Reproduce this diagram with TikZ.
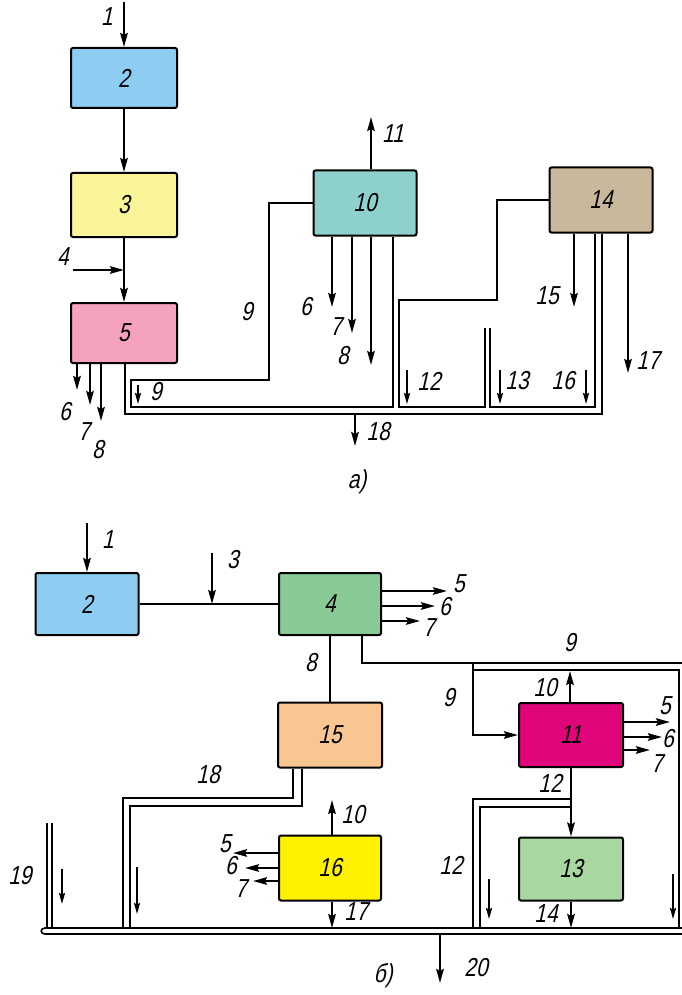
\documentclass[tikz,border=0pt]{standalone}
\usepackage{fontspec}
\setmainfont{Liberation Sans}
\newfontfamily\labfont[FakeStretch=0.8,FakeSlant=0.22]{Liberation Sans}
\usetikzlibrary{arrows.meta}
\definecolor{cblue}{HTML}{8ECDF2}
\definecolor{cyel}{HTML}{FBF59A}
\definecolor{cpink}{HTML}{F4A2C0}
\definecolor{cteal}{HTML}{8ED0CB}
\definecolor{ctan}{HTML}{C9B89B}
\definecolor{cgreen}{HTML}{88C995}
\definecolor{corange}{HTML}{F8C690}
\definecolor{cmag}{HTML}{E0057A}
\definecolor{cyellow}{HTML}{FFF200}
\definecolor{clgreen}{HTML}{A8D7A0}
\begin{document}
\begin{tikzpicture}[x=1pt,y=-1pt,
  box/.style={draw, line width=2pt, rounded corners=2pt, inner sep=0pt,
    font=\labfont\fontsize{26}{26}\selectfont},
  arr/.style={line width=2.2pt, -{Stealth[length=14pt,width=7.5pt,inset=2pt]}},
  sarr/.style={line width=1.8pt, -{Stealth[length=11pt,width=6pt,inset=1.5pt]}},
  ln/.style={line width=2pt},
  dl/.style={line width=1.6pt},
  lab/.style={font=\labfont\fontsize{26}{26}\selectfont, inner sep=0pt}
]
\fill[white] (0,0) rectangle (681,995);
\useasboundingbox (0,0) rectangle (681,995);

% ---------------- figure a ----------------
\node[box, fill=cblue, minimum width=106, minimum height=60] (a2) at (124,78) {2};
\node[box, fill=cyel, minimum width=106, minimum height=64] (a3) at (124,205) {3};
\node[box, fill=cpink, minimum width=106, minimum height=60] (a5) at (124,333) {5};
\node[box, fill=cteal, minimum width=103, minimum height=65] (a10) at (365,203) {10};
\node[box, fill=ctan, minimum width=103, minimum height=65] (a14) at (601,200) {14};

\coordinate (a1s) at (124,2);
\draw[arr] (a1s) -- (a2.north);
\node[lab] at (107,17) {1};
\draw[arr] (a2.south) -- (a3.north);
\draw[arr] (a3.south) -- (a5.north);
\coordinate (a4s) at (73,270);
\draw[arr] (a4s) -- (a4s -| a3.south);
\node[lab] at (63,257) {4};

\coordinate (a6e) at (77,390);
\coordinate (a7e) at (90,405);
\coordinate (a8e) at (101,421);
\draw[arr] (a6e |- a5.south) -- (a6e);
\draw[arr] (a7e |- a5.south) -- (a7e);
\draw[arr] (a8e |- a5.south) -- (a8e);
\node[lab] at (65,412) {6};
\node[lab] at (84,432) {7};
\node[lab] at (98,450) {8};

% outer bus line
\coordinate (o1) at (125,414);
\coordinate (o2) at (602,414);
\draw[dl] (o1 |- a5.south) -- (o1) -- (o2) -- (o2 |- a14.south);
% stream 9 from 10
\coordinate (n1) at (269,380);
\coordinate (n2) at (131,380);
\coordinate (n3) at (131,407);
\coordinate (n4) at (393,407);
\draw[ln] (a10.west) -- (a10.west -| n1) -- (n1) -- (n2) -- (n3) -- (n4) -- (n4 |- a10.south);
% stream from 14 (left)
\coordinate (m1) at (497,300);
\coordinate (m2) at (399,300);
\coordinate (m3) at (399,407);
\coordinate (m4) at (485,407);
\coordinate (m5) at (485,328);
\draw[ln] (a14.west) -- (a14.west -| m1) -- (m1) -- (m2) -- (m3) -- (m4) -- (m5);
\coordinate (k1) at (490,328);
\coordinate (k2) at (490,407);
\coordinate (k3) at (595,407);
\draw[dl] (k1) -- (k2) -- (k3) -- (k3 |- a14.south);

\coordinate (s9a) at (138,385);  \coordinate (s9b) at (138,404);
\coordinate (s12a) at (407,370); \coordinate (s12b) at (407,404);
\coordinate (s13a) at (500,370); \coordinate (s13b) at (500,404);
\coordinate (s16a) at (586,370); \coordinate (s16b) at (586,404);
\draw[sarr] (s9a) -- (s9b);
\draw[sarr] (s12a) -- (s12b);
\draw[sarr] (s13a) -- (s13b);
\draw[sarr] (s16a) -- (s16b);
\node[lab] at (156,392) {9};
\node[lab] at (429,381) {12};
\node[lab] at (517,381) {13};
\node[lab] at (563,381) {16};

\coordinate (a18e) at (355,446);
\draw[arr] (a18e |- o1) -- (a18e);
\node[lab] at (378,432) {18};
\node[lab] at (357,482) {а)};

\coordinate (a11e) at (371,117);
\draw[arr] (a11e |- a10.north) -- (a11e);
\node[lab] at (393,134) {11};
\coordinate (b6e) at (332,307);
\coordinate (b7e) at (352,333);
\coordinate (b8e) at (371,365);
\draw[arr] (b6e |- a10.south) -- (b6e);
\draw[arr] (b7e |- a10.south) -- (b7e);
\draw[arr] (b8e |- a10.south) -- (b8e);
\node[lab] at (247,312) {9};
\node[lab] at (306,307) {6};
\node[lab] at (336,327) {7};
\node[lab] at (343,356) {8};

\coordinate (a15e) at (574,307);
\coordinate (a17e) at (628,373);
\draw[arr] (a15e |- a14.south) -- (a15e);
\draw[arr] (a17e |- a14.south) -- (a17e);
\node[lab] at (547,296) {15};
\node[lab] at (648,361) {17};

% ---------------- figure b ----------------
\node[box, fill=cblue, minimum width=103, minimum height=62] (b2) at (87,604) {2};
\node[box, fill=cgreen, minimum width=102, minimum height=62] (b4) at (330,604) {4};
\node[box, fill=corange, minimum width=104, minimum height=65] (b15) at (330,735) {15};
\node[box, fill=cyellow, minimum width=102, minimum height=65] (b16) at (330,868) {16};
\node[box, fill=cmag, minimum width=104, minimum height=64] (b11) at (571,735) {11};
\node[box, fill=clgreen, minimum width=104, minimum height=63] (b13) at (571,869) {13};

\coordinate (b1s) at (87,523);
\draw[arr] (b1s) -- (b2.north);
\node[lab] at (108,540) {1};
\draw[ln] (b2.east) -- (b4.west);
\coordinate (b3s) at (212,553);
\draw[arr] (b3s) -- (b3s |- b2.east);
\node[lab] at (233,560) {3};

\coordinate (c5e) at (447,591);
\coordinate (c6e) at (435,606);
\coordinate (c7e) at (420,621);
\draw[arr] (c5e -| b4.east) -- (c5e);
\draw[arr] (c6e -| b4.east) -- (c6e);
\draw[arr] (c7e -| b4.east) -- (c7e);
\node[lab] at (459,584) {5};
\node[lab] at (445,607) {6};
\node[lab] at (429,628) {7};

\draw[ln] (b4.south) -- (b15.north);
\node[lab] at (311,663) {8};

\coordinate (g1) at (362,663);
\coordinate (g2) at (683,663);
\draw[ln] (g1 |- b4.south) -- (g1) -- (g2);
\coordinate (h1) at (473,663);
\coordinate (h2) at (473,735);
\draw[arr] (h1) -- (h2) -- (b11.west);
\coordinate (r1) at (473,670);
\coordinate (r2) at (679,670);
\coordinate (r3) at (679,928);
\draw[dl] (r1) -- (r2) -- (r3);
\node[lab] at (449,698) {9};
\node[lab] at (570,643) {9};
\coordinate (t10) at (570,671);
\draw[arr] (t10 |- b11.north) -- (t10);
\node[lab] at (545,688) {10};

\coordinate (d5e) at (670,722);
\coordinate (d6e) at (662,737);
\coordinate (d7e) at (650,750);
\draw[arr] (d5e -| b11.east) -- (d5e);
\draw[arr] (d6e -| b11.east) -- (d6e);
\draw[arr] (d7e -| b11.east) -- (d7e);
\node[lab] at (665,706) {5};
\node[lab] at (668,739) {6};
\node[lab] at (657,764) {7};

\draw[arr] (b11.south) -- (b13.north);
\node[lab] at (550,783) {12};
\coordinate (u1) at (570,799);
\coordinate (u2) at (473,799);
\coordinate (u3) at (473,928);
\draw[dl] (u1) -- (u2) -- (u3);
\coordinate (v1) at (570,807);
\coordinate (v2) at (480,807);
\coordinate (v3) at (480,928);
\draw[dl] (v1) -- (v2) -- (v3);
\coordinate (s12c) at (489,879); \coordinate (s12d) at (489,919);
\draw[sarr] (s12c) -- (s12d);
\node[lab] at (451,865) {12};

\coordinate (bt) at (571,928);
\draw[arr] (b13.south) -- (bt);
\node[lab] at (546,914) {14};

\coordinate (w1) at (293,798);
\coordinate (w2) at (123,798);
\coordinate (w3) at (123,928);
\draw[dl] (w1 |- b15.south) -- (w1) -- (w2) -- (w3);
\coordinate (x1) at (302,806);
\coordinate (x2) at (130,806);
\coordinate (x3) at (130,928);
\draw[dl] (x1 |- b15.south) -- (x1) -- (x2) -- (x3);
\coordinate (s18a) at (137,867); \coordinate (s18b) at (137,914);
\draw[sarr] (s18a) -- (s18b);
\node[lab] at (208,775) {18};

\coordinate (p1) at (47,823); \coordinate (p2) at (47,928);
\coordinate (p3) at (52,823); \coordinate (p4) at (52,928);
\draw[dl] (p1) -- (p2);
\draw[dl] (p3) -- (p4);
\coordinate (s19a) at (62,869); \coordinate (s19b) at (62,904);
\draw[sarr] (s19a) -- (s19b);
\node[lab] at (20,876) {19};

\coordinate (q10) at (332,800);
\draw[arr] (q10 |- b16.north) -- (q10);
\node[lab] at (353,815) {10};
\coordinate (f5e) at (233,853);
\coordinate (f6e) at (245,868);
\coordinate (f7e) at (253,881);
\draw[arr] (f5e -| b16.west) -- (f5e);
\draw[arr] (f6e -| b16.west) -- (f6e);
\draw[arr] (f7e -| b16.west) -- (f7e);
\node[lab] at (225,844) {5};
\node[lab] at (231,866) {6};
\node[lab] at (241,889) {7};
\coordinate (q17) at (332,928);
\draw[arr] (q17 |- b16.south) -- (q17);
\node[lab] at (356,912) {17};

% bus
\coordinate (bus1) at (683,928);
\coordinate (bus2) at (45,928);
\coordinate (bus3) at (45,934);
\coordinate (bus4) at (683,934);
\draw[dl] (bus1) -- (bus2) .. controls (40,928) and (40,934) .. (bus3) -- (bus4);

\coordinate (s20a) at (440,934); \coordinate (s20b) at (440,983);
\draw[arr] (s20a) -- (s20b);
\node[lab] at (476,968) {20};
\coordinate (sra) at (673,874); \coordinate (srb) at (673,919);
\draw[sarr] (sra) -- (srb);
\node[lab] at (383,976) {б)};
\end{tikzpicture}
\end{document}
